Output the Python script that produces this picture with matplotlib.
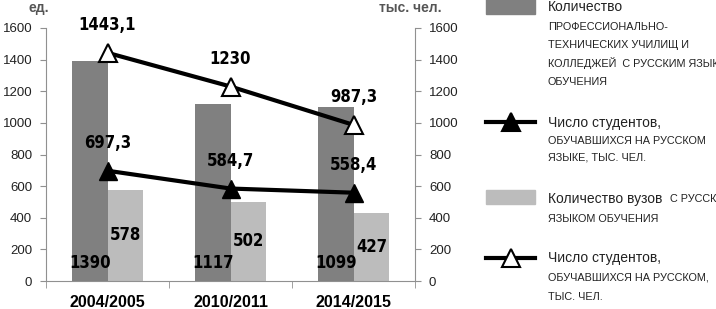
import matplotlib
matplotlib.use("Agg")
import matplotlib.pyplot as plt
from matplotlib.lines import Line2D
from matplotlib.patches import Rectangle
import numpy as np

categories = ["2004/2005", "2010/2011", "2014/2015"]
colleges = [1390, 1117, 1099]
universities = [578, 502, 427]
students_colleges = [697.3, 584.7, 558.4]
students_univ = [1443.1, 1230, 987.3]
yticks = [0, 200, 400, 600, 800, 1000, 1200, 1400, 1600]

plt.rcParams['font.family'] = ['Liberation Sans', 'DejaVu Sans']

def fmt(v):
    return ("%g" % v).replace(".", ",")

W, H = 716, 309
fig = plt.figure(figsize=(W / 100, H / 100), dpi=100)
ax = fig.add_axes([46 / W, 1 - 281 / H, (415 - 46) / W, (281 - 28) / H])
ax2 = ax.twinx()

x = np.arange(len(categories))
bw = 0.29
dark = "#808080"
light = "#bcbcbc"
axc = "#909090"

ax.bar(x - bw / 2, colleges, bw, color=dark, zorder=2)
ax.bar(x + bw / 2, universities, bw, color=light, zorder=2)

ax2.plot(x, students_univ, color="black", lw=3, marker="^", ms=13,
         mfc="white", mec="black", mew=1.5, zorder=5)
ax2.plot(x, students_colleges, color="black", lw=3, marker="^", ms=13,
         mfc="black", mec="black", zorder=5)

for a in (ax, ax2):
    a.set_ylim(0, 1600)
    a.set_yticks(yticks)
    a.set_xlim(-0.5, 2.5)
    for s in a.spines.values():
        s.set_visible(False)
ax.spines['left'].set_visible(True)
ax.spines['left'].set_color(axc)
ax.spines['bottom'].set_visible(True)
ax.spines['bottom'].set_color(axc)
ax2.spines['right'].set_visible(True)
ax2.spines['right'].set_color(axc)

ax.tick_params(axis='y', colors=axc, labelcolor="#222222", labelsize=9.5, length=4, pad=6)
ax2.tick_params(axis='y', colors=axc, labelcolor="#222222", labelsize=9.5, length=4, pad=6)
ax.set_xticks(x)
ax.set_xticklabels(categories, fontweight="bold", fontsize=11.5)
ax.tick_params(axis='x', length=0, pad=10, labelcolor="black")
ax.set_xticks([-0.5, 0.5, 1.5, 2.5], minor=True)
ax.tick_params(axis='x', which='minor', length=5, color=axc)

lab = dict(family=['DejaVu Sans'], fontstretch="condensed", fontweight="bold",
           fontsize=12, ha="center", va="center", color="black", zorder=6)
for i in range(len(categories)):
    ax2.annotate(fmt(students_univ[i]), (x[i], students_univ[i]), xytext=(0, 20),
                 textcoords="offset points", **lab)
    ax2.annotate(fmt(students_colleges[i]), (x[i], students_colleges[i]), xytext=(0, 20),
                 textcoords="offset points", **lab)
    ax.text(x[i] - bw / 2, 115, fmt(colleges[i]), **lab)
    ax.text(x[i] + bw / 2, universities[i] / 2, fmt(universities[i]), **lab)

fig.text(39 / W, 1 - 8 / H, "ед.", ha="center", va="center", fontsize=10,
         fontweight="bold", color="#555555")
fig.text(410 / W, 1 - 8 / H, "тыс. чел.", ha="center", va="center", fontsize=10,
         fontweight="bold", color="#555555")

# legend
def px(xp, yp):
    return xp / W, 1 - yp / H

fig.patches.append(Rectangle(px(486, 14), 49 / W, 15 / H, transform=fig.transFigure,
                             color=dark))
fig.patches.append(Rectangle(px(486, 204), 49 / W, 14 / H, transform=fig.transFigure,
                             color=light))
for yp, mfc in ((122, "black"), (258, "white")):
    xa, ya = px(486, yp)
    xb, _ = px(535, yp)
    fig.lines.append(Line2D([xa, xb], [ya, ya], transform=fig.transFigure, color="black",
                            lw=3))
    fig.lines.append(Line2D([(xa + xb) / 2], [ya], transform=fig.transFigure, marker="^",
                            ms=13, mfc=mfc, mec="black", mew=1.5, color="black"))

big = 10
small = 7.8
legend_lines = [
    (7, "Количество", big), (27, "ПРОФЕССИОНАЛЬНО-", small), (45, "ТЕХНИЧЕСКИХ УЧИЛИЩ И", small),
    (63, "КОЛЛЕДЖЕЙ  С РУССКИМ ЯЗЫКОМ", small), (82, "ОБУЧЕНИЯ", small),
    (123, "Число студентов,", big), (141, "ОБУЧАВШИХСЯ НА РУССКОМ", small),
    (158, "ЯЗЫКЕ, ТЫС. ЧЕЛ.", small),
    (219, "ЯЗЫКОМ ОБУЧЕНИЯ", small),
    (258, "Число студентов,", big), (278, "ОБУЧАВШИХСЯ НА РУССКОМ,", small),
    (297, "ТЫС. ЧЕЛ.", small),
]
for yp, t, fs in legend_lines:
    fx, fy = px(548, yp)
    fig.text(fx, fy, t, ha="left", va="center", fontsize=fs, color="#222222")
# mixed line: "Количество вузов" + small caps part
fx, fy = px(548, 199)
t1 = fig.text(fx, fy, "Количество вузов  ", ha="left", va="center", fontsize=big,
              color="#222222")
fig.canvas.draw()
bb = t1.get_window_extent()
fig.text(bb.x1 / W, fy, "С РУССКИМ", ha="left", va="center", fontsize=small, color="#222222")

fig.savefig("out.png", dpi=100)
